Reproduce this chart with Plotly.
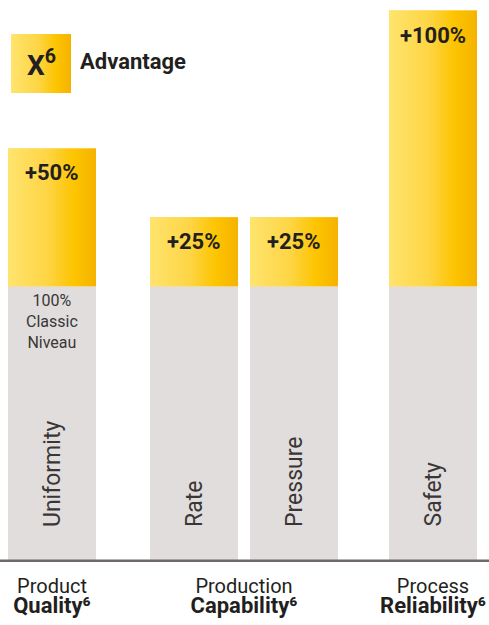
import plotly.graph_objects as go

# ---- data ----
factors = ["Uniformity", "Rate", "Pressure", "Safety"]
x_pos = [1.04, 3.88, 5.88, 8.66]          # slot positions of the four bars
classic_level = [100, 100, 100, 100]      # 100 % classic niveau
advantage = [50, 25, 25, 100]             # X6 advantage in %
advantage_labels = ["+50%", "+25%", "+25%", "+100%"]
group_pos = [1.04, 4.88, 8.66]
group_line1 = ["Product", "Production", "Process"]
group_line2 = ["Quality", "Capability", "Reliability"]
bar_width = 1.76

FONT = "Roboto"
TXT = "#231f20"
GREY = "#e0dddc"
grad = [[0, "#ffe46e"], [0.45, "#fed545"], [0.75, "#fdc400"], [1, "#f5b300"]]

fig = go.Figure()

fig.add_trace(go.Bar(x=x_pos, y=classic_level, width=bar_width,
                     marker=dict(color=GREY, line=dict(width=0)),
                     name="Classic", hoverinfo="skip"))
fig.add_trace(go.Bar(x=x_pos, y=advantage, base=classic_level, width=bar_width,
                     marker=dict(color="#fdcf30", line=dict(width=0)),
                     name="X6 Advantage", hoverinfo="skip"))

# gradient overlay for the yellow segments (computed from the data arrays)
for xp, b, a in zip(x_pos, classic_level, advantage):
    x0, x1 = xp - bar_width / 2, xp + bar_width / 2
    fig.add_trace(go.Scatter(x=[x0, x1, x1, x0, x0], y=[b, b, b + a, b + a, b],
                             mode="lines", line=dict(width=0), fill="toself",
                             fillgradient=dict(type="horizontal", colorscale=grad),
                             hoverinfo="skip", showlegend=False))

annotations = []
for xp, b, a, lab in zip(x_pos, classic_level, advantage, advantage_labels):
    annotations.append(dict(x=xp, y=b + a, xref="x", yref="y", text="<b>" + lab + "</b>",
                            showarrow=False, yanchor="top", yshift=-10,
                            font=dict(family=FONT, size=22, color=TXT)))
for xp, f in zip(x_pos, factors):
    annotations.append(dict(x=xp, y=0, xref="x", yref="y", text=f, textangle=-90,
                            showarrow=False, yanchor="bottom", yshift=33,
                            font=dict(family=FONT, size=23, color="#3a3636")))
annotations.append(dict(x=x_pos[0], y=classic_level[0], xref="x", yref="y",
                        text="100%<br>Classic<br>Niveau", showarrow=False,
                        yanchor="top", yshift=-3,
                        font=dict(family=FONT, size=16, color="#3a3636")))
# legend swatch text
annotations.append(dict(x=41 / 489, y=1 - 63.5 / 562, xref="paper", yref="paper",
                        text="<b>X<sup>6</sup></b>", showarrow=False,
                        xanchor="center", yanchor="middle",
                        font=dict(family=FONT, size=28, color=TXT)))
annotations.append(dict(x=78 / 489, y=1 - 62 / 562, xref="paper", yref="paper",
                        text="<b>Advantage</b>", showarrow=False,
                        xanchor="left", yanchor="middle",
                        font=dict(family=FONT, size=22, color=TXT)))

ticktext = ["<span style='font-size:20px'>%s</span><br>"
            "<span style='font-size:22px'><b>%s\u2076</b></span>" % (a, b)
            for a, b in zip(group_line1, group_line2)]

svg = ("data:image/svg+xml;utf8,<svg xmlns='http://www.w3.org/2000/svg' width='60' height='59'>"
       "<defs><linearGradient id='g' x1='0' x2='1' y1='0' y2='0'>"
       "<stop offset='0' stop-color='%23ffe46e'/><stop offset='0.45' stop-color='%23fed545'/>"
       "<stop offset='0.75' stop-color='%23fdc400'/><stop offset='1' stop-color='%23f5b300'/>"
       "</linearGradient></defs><rect width='60' height='59' fill='url(%23g)'/></svg>")

fig.update_layout(
    width=489, height=625,
    margin=dict(l=0, r=0, t=0, b=63, pad=0),
    paper_bgcolor="white", plot_bgcolor="white",
    barmode="overlay", showlegend=False,
    xaxis=dict(range=[0, 9.78], showgrid=False, zeroline=False, showline=False,
               tickvals=group_pos, ticktext=ticktext,
               ticks="outside", ticklen=12, tickcolor="rgba(0,0,0,0)",
               tickfont=dict(family=FONT, size=15, color=TXT), fixedrange=True),
    yaxis=dict(range=[0, 562 / 2.7575], showgrid=False, zeroline=False,
               showline=False, showticklabels=False, fixedrange=True),
    annotations=annotations,
    shapes=[dict(type="line", xref="paper", yref="y", x0=0, x1=1, y0=0, y1=0,
                 line=dict(color="#6e6966", width=5), layer="above")],
    images=[dict(source=svg, xref="paper", yref="paper", x=11 / 489, y=1 - 34 / 562,
                 sizex=60 / 489, sizey=59 / 562, sizing="stretch",
                 xanchor="left", yanchor="top", layer="below")],
)

fig.write_html("out.html", config={"displayModeBar": False},
               post_script="document.body.style.margin='0';document.body.style.overflow='hidden';")
